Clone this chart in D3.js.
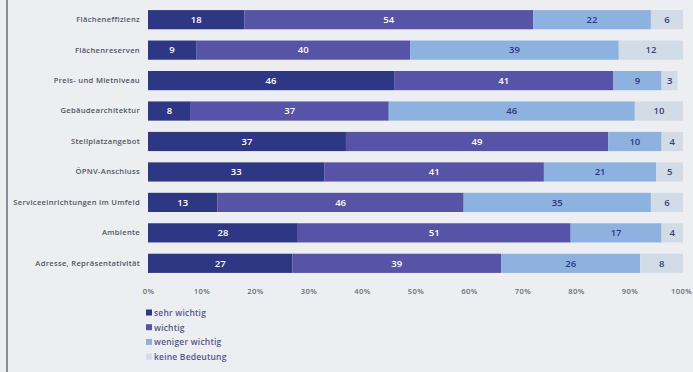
<!DOCTYPE html>
<html><head><meta charset="utf-8">
<script src="https://cdn.jsdelivr.net/npm/d3@7"></script>
<style>
html,body{margin:0;padding:0;background:#eceef2;}
svg{display:block;}
</style></head>
<body>
<svg id="chart" width="693" height="372"></svg>
<script>
const categories = ["Flächeneffizienz","Flächenreserven","Preis- und Mietniveau","Gebäudearchitektur","Stellplatzangebot","ÖPNV-Anschluss","Serviceeinrichtungen im Umfeld","Ambiente","Adresse, Repräsentativität"];
const seriesNames = ["sehr wichtig","wichtig","weniger wichtig","keine Bedeutung"];
const sehrWichtig    = [18, 9, 46, 8, 37, 33, 13, 28, 27];
const wichtig        = [54, 40, 41, 37, 49, 41, 46, 51, 39];
const wenigerWichtig = [22, 39, 9, 46, 10, 21, 35, 17, 26];
const keineBedeutung = [6, 12, 3, 10, 4, 5, 6, 4, 8];
const tickValues = [0,10,20,30,40,50,60,70,80,90,100];

const colors = ["#2e3783","#5753a6","#8db2e0","#d2dce7"];
const labelColors = ["#ffffff","#ffffff","#2e3783","#3a4070"];

const svg = d3.select("#chart");
svg.append("rect").attr("width",693).attr("height",372).attr("fill","#eceef2");
svg.append("line").attr("x1",7).attr("x2",7).attr("y1",0).attr("y2",372)
  .attr("stroke","#8a8d96").attr("stroke-width",2);

const x = d3.scaleLinear().domain([0,100]).range([148,683]);
const y = d3.scaleBand().domain(categories).range([4,279]).paddingInner(0.37).paddingOuter(0.2);

svg.append("defs").append("clipPath").attr("id","plotclip")
  .append("rect").attr("x",x(0)).attr("y",0).attr("width",x(100)-x(0)).attr("height",300);

const rows = categories.map((c,i)=>({cat:c, vals:[sehrWichtig[i],wichtig[i],wenigerWichtig[i],keineBedeutung[i]]}));
const stack = d3.stack().keys([0,1,2,3]).value((d,k)=>d.vals[k]);
const layers = stack(rows);

const g = svg.append("g").attr("clip-path","url(#plotclip)");
layers.forEach((layer,k)=>{
  const lg = g.append("g");
  lg.selectAll("rect").data(layer).join("rect")
    .attr("x",d=>x(d[0])).attr("width",d=>x(d[1])-x(d[0]))
    .attr("y",d=>y(d.data.cat)).attr("height",y.bandwidth())
    .attr("fill",colors[k]);
  lg.selectAll("text").data(layer).join("text")
    .attr("x",d=>(x(d[0])+Math.min(x(d[1]),x(100)))/2)
    .attr("y",d=>y(d.data.cat)+y.bandwidth()/2)
    .attr("dy","0.35em").attr("text-anchor","middle")
    .attr("font-family","Open Sans, sans-serif").attr("font-weight","600")
    .attr("font-size","9.5px").attr("fill",labelColors[k])
    .text(d=>d.data.vals[k]);
});

// category labels
const yAxis = d3.axisLeft(y).tickSize(0).tickPadding(0);
const ya = svg.append("g").attr("transform","translate(140,0)").call(yAxis);
ya.select(".domain").remove();
ya.selectAll("text").attr("font-family","Open Sans, sans-serif").attr("font-size","7.6px")
  .attr("font-weight","600").attr("fill","#53565f").attr("letter-spacing","0.3px");

// x axis
const xAxis = d3.axisBottom(x).tickValues(tickValues).tickSize(0).tickPadding(0).tickFormat(d=>d+"%");
const xa = svg.append("g").attr("transform","translate(0,289)").call(xAxis);
xa.select(".domain").remove();
xa.selectAll("text").attr("font-family","Open Sans, sans-serif").attr("font-size","7.6px")
  .attr("font-weight","600").attr("fill","#6a6d78").attr("letter-spacing","0.4px");
xa.selectAll(".tick").filter(d=>d===100).select("text").attr("dx","-2");

// legend
const leg = svg.append("g");
seriesNames.forEach((s,i)=>{
  const ly = 313 + i*14.7;
  leg.append("rect").attr("x",146).attr("y",ly-3.5).attr("width",6).attr("height",6).attr("fill",colors[i]);
  leg.append("text").attr("x",154).attr("y",ly).attr("dy","0.35em")
    .attr("font-family","Open Sans, sans-serif").attr("font-size","8.5px").attr("font-weight","600")
    .attr("fill","#55548a").attr("letter-spacing","0.2px").text(s);
});
</script>
</body></html>
